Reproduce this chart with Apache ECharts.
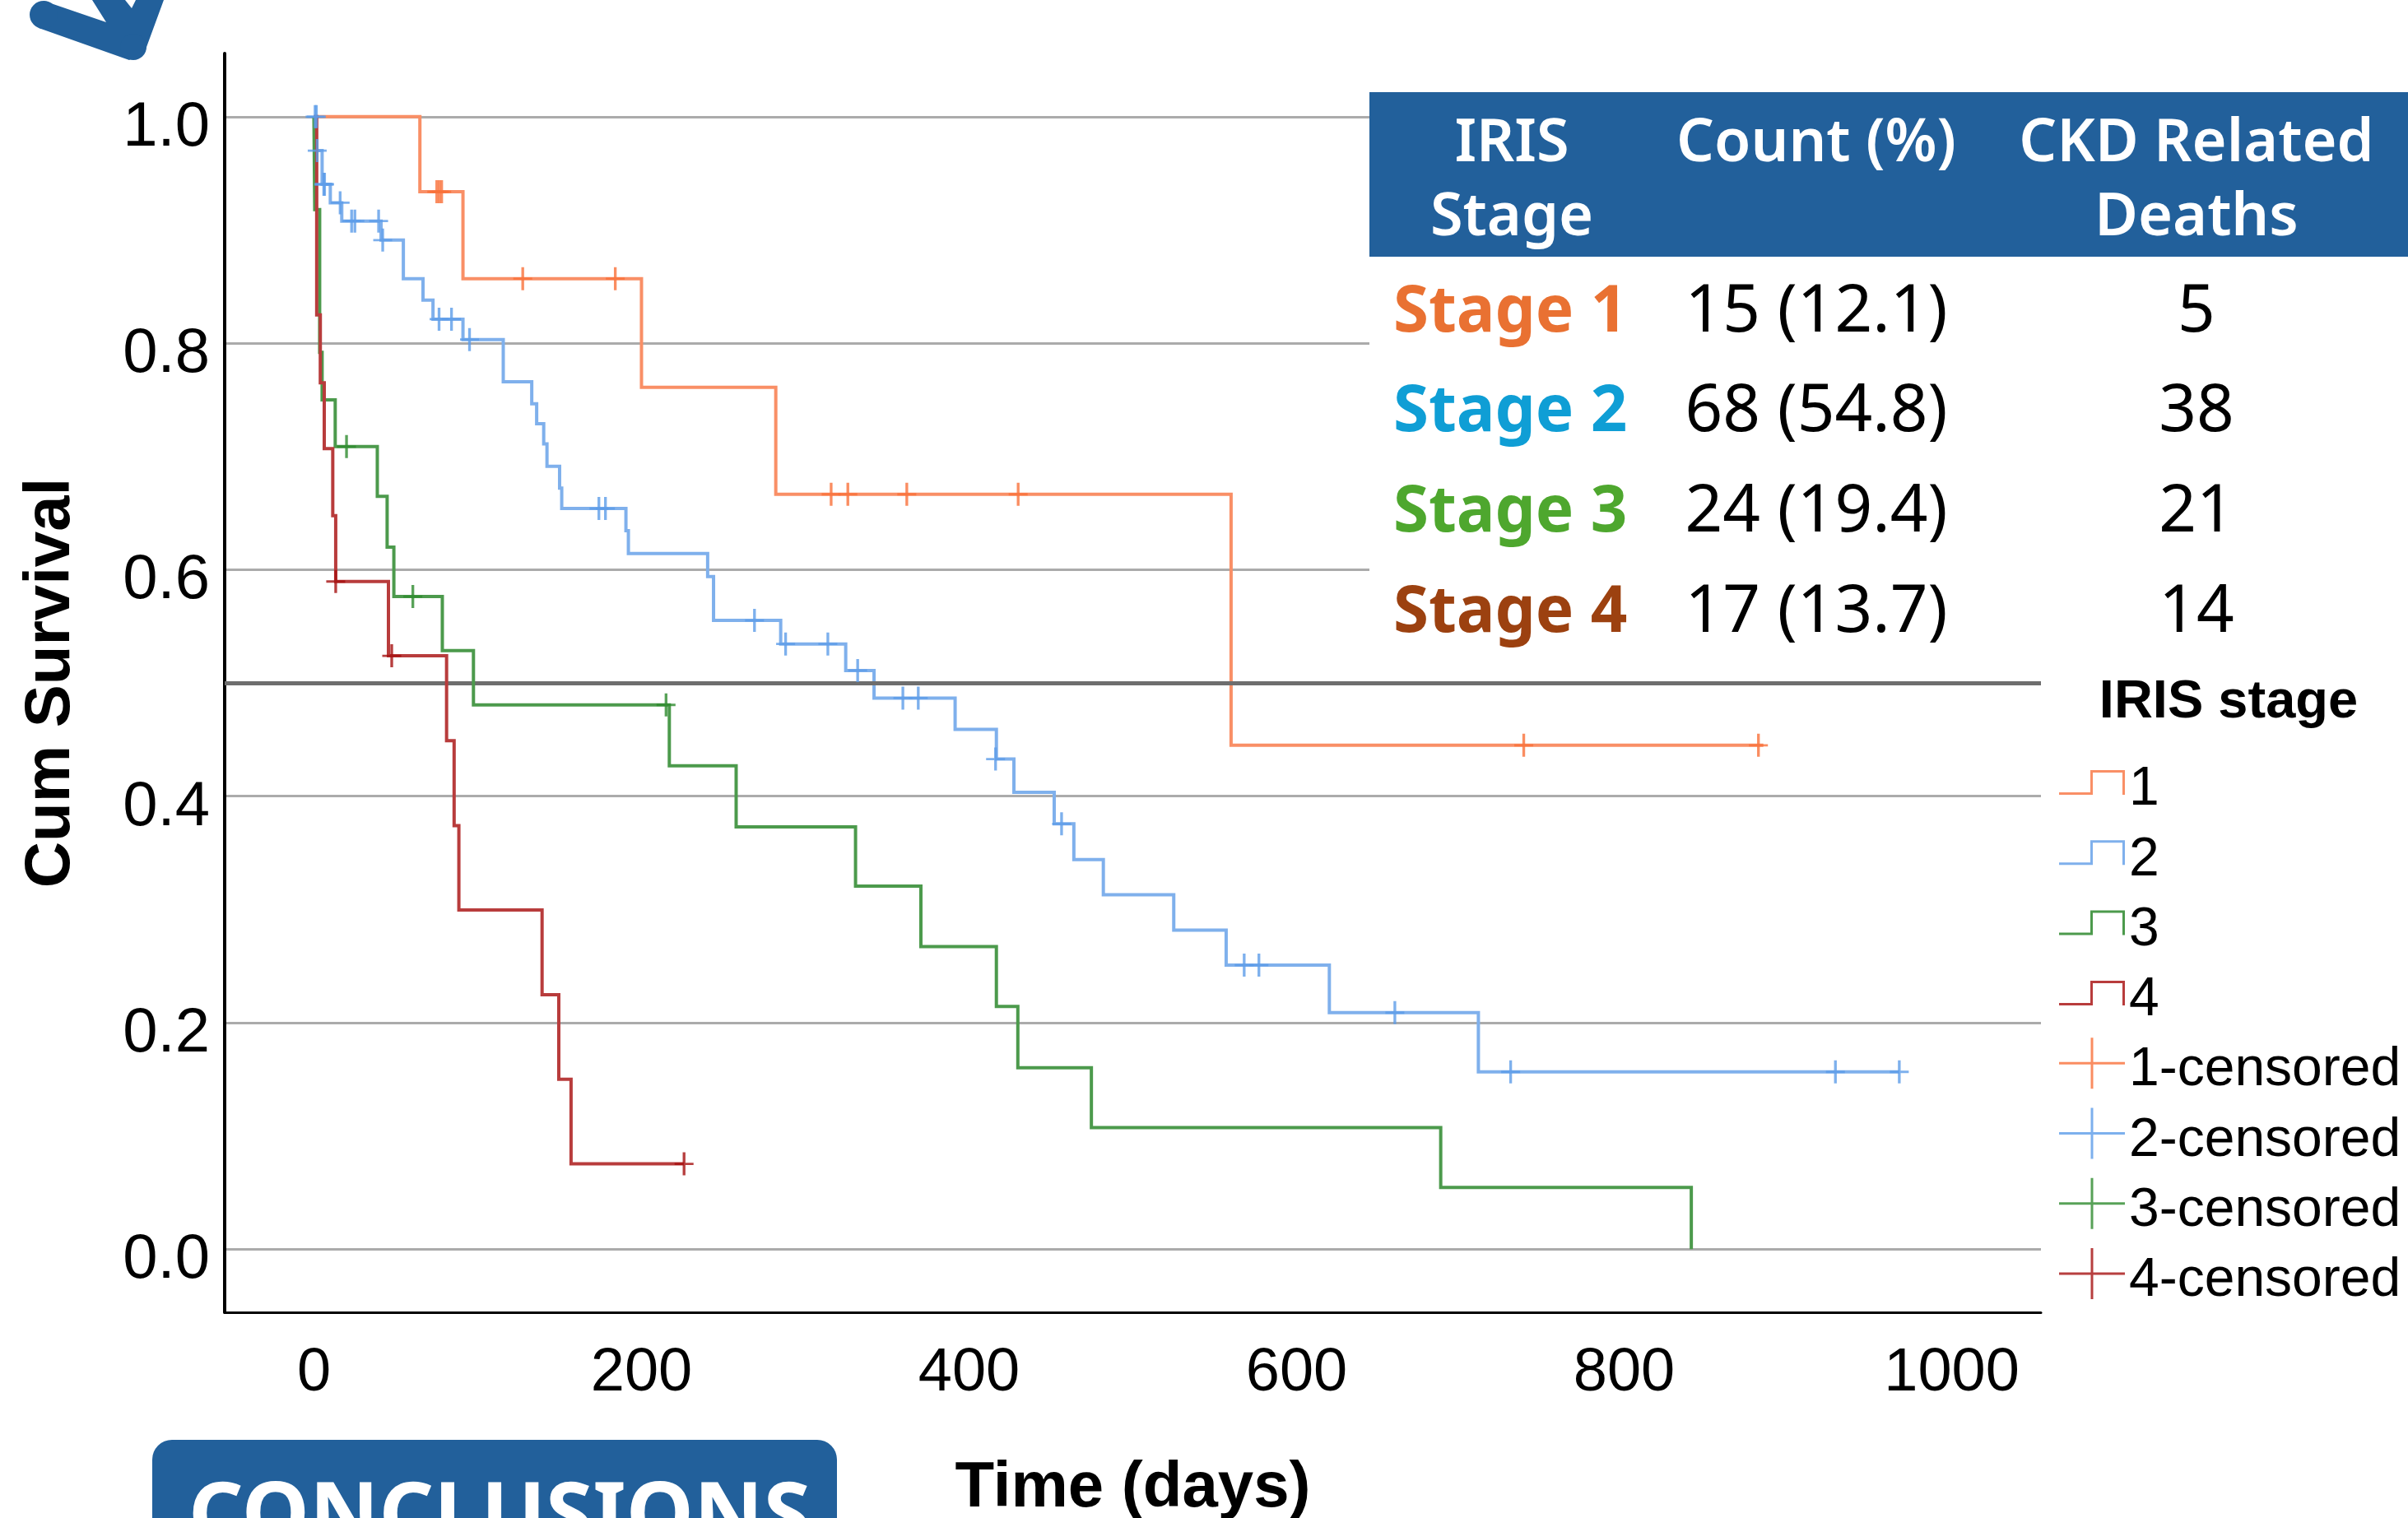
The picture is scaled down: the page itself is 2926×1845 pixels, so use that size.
<!DOCTYPE html>
<html>
<head>
<meta charset="utf-8">
<style>html,body{margin:0;padding:0;background:#fff}#chart{width:2926px;height:1845px}</style>
<script src="https://cdn.jsdelivr.net/npm/echarts@6/dist/echarts.min.js"></script>
</head>
<body>
<div id="chart"></div>
<script>
var xTickValues = [0, 200, 400, 600, 800, 1000];
var yTickValues = [0, 0.2, 0.4, 0.6, 0.8, 1.0];

var stage1Steps = [[0,1],[64.7,0.9337],[91,0.857],[200,0.761],[282,0.6666],[560,0.445],[885,0.445]];
var stage2Steps = [[0,1],[1.2,0.97],[5,0.9403],[10,0.924],[17,0.9078],[41,0.891],[54.6,0.857],[66.6,0.838],[72.7,0.8212],[91,0.8032],[115.6,0.766],[133,0.7465],[136,0.7289],[140.3,0.711],[142.3,0.6913],[150,0.672],[151.3,0.654],[190.5,0.6344],[192,0.6143],[240.4,0.594],[244,0.5552],[285,0.5344],[324.7,0.511],[342,0.4867],[391.5,0.459],[416.7,0.4328],[427.4,0.4034],[452,0.3756],[464,0.3441],[482,0.313],[525,0.2818],[557,0.2508],[620,0.2089],[711,0.1566],[968,0.1566]];
var stage3Steps = [[0,1],[0.5,0.918],[3.5,0.792],[5,0.75],[13,0.7087],[38.7,0.6647],[44.7,0.62],[48.8,0.5763],[78.4,0.5286],[97.4,0.4806],[217,0.4269],[257.8,0.3729],[330.7,0.3206],[370.6,0.2673],[416.7,0.2144],[429.8,0.1602],[474.7,0.1074],[688,0.0545],[841,0]];
var stage4Steps = [[0,1],[1.7,0.825],[3.9,0.765],[6.3,0.707],[11.5,0.6477],[13.3,0.5896],[45.5,0.524],[81,0.449],[85.6,0.374],[88.5,0.2995],[139.3,0.2247],[149.5,0.15],[157,0.0754],[226,0.0754]];

var stage1Censored = [[75,0.9337],[76.5,0.9337],[78,0.9337],[127.5,0.857],[184,0.857],[315.8,0.6666],[326,0.6666],[362,0.6666],[430,0.6666],[738.7,0.445],[882,0.445]];
var stage2Censored = [[0.7,1],[1.5,1],[2,0.97],[6,0.9403],[6.5,0.9403],[16,0.924],[23,0.9078],[25,0.9078],[39.5,0.9078],[42,0.891],[76.4,0.8212],[84,0.8212],[95,0.8032],[174,0.654],[178,0.654],[269,0.5552],[288,0.5344],[313.8,0.5344],[332,0.511],[359.6,0.4867],[369,0.4867],[416.2,0.4328],[456.5,0.3756],[568,0.2508],[577,0.2508],[660,0.2089],[730.7,0.1566],[929,0.1566],[968,0.1566]];
var stage3Censored = [[19.9,0.7087],[60.4,0.5763],[215,0.4806]];
var stage4Censored = [[13.3,0.5896],[47.5,0.524],[226,0.0754]];

var seriesNames = ['1','2','3','4'];
var censoredNames = ['1-censored','2-censored','3-censored','4-censored'];
var lineColors = ['#F98F66','#7FB0EC','#4C9A4C','#B83C3C'];
var crossColors = ['#F9703A','#5C9CE8','#2E8B2E','#A50F0F'];
var legendTitle = 'IRIS stage';
var xAxisTitle = 'Time (days)';
var yAxisTitle = 'Cum Survival';
var referenceLevel = 0.5;

var tableHeaders = [['IRIS','Stage'],['Count (%)'],['CKD Related','Deaths']];
var tableStages = ['Stage 1','Stage 2','Stage 3','Stage 4'];
var tableStageColors = ['#E97132','#0F9ED5','#4EA72E','#9C4110'];
var tableCounts = ['15 (12.1)','68 (54.8)','24 (19.4)','17 (13.7)'];
var tableDeaths = ['5','38','21','14'];
var conclusionsText = 'CONCLUSIONS';

var BLUE = '#22609B';
var stepIcon = 'path://M0 27 H38 V0 H80 V30 H77 V3 H41 V30 H0 Z';
var crossIcon = 'path://M38.5 0 H41.5 V29.5 H80 V32.5 H41.5 V62 H38.5 V32.5 H0 V29.5 H38.5 Z';
var crossSymbol = 'path://M-1.6 -14 H1.6 V-1.4 H11 V1.4 H1.6 V14 H-1.6 V1.4 H-11 V-1.4 H-1.6 Z';

var allSteps = [stage1Steps, stage2Steps, stage3Steps, stage4Steps];
var allCensored = [stage1Censored, stage2Censored, stage3Censored, stage4Censored];

var series = [];
allSteps.forEach(function (d, i) {
  var s = {
    name: seriesNames[i], type: 'line', step: 'end', data: d, symbol: 'none', z: 3 + i,
    lineStyle: {color: lineColors[i], width: 4, cap: 'butt', join: 'miter'},
    itemStyle: {color: lineColors[i]}, animation: false, clip: false
  };
  if (i === 0) {
    s.markLine = {
      silent: true, symbol: 'none', label: {show: false}, animation: false,
      lineStyle: {color: '#6E6E6E', width: 5, type: 'solid'},
      data: [{yAxis: referenceLevel}]
    };
  }
  series.push(s);
});
allCensored.forEach(function (d, i) {
  series.push({
    name: censoredNames[i], type: 'scatter', data: d, symbol: crossSymbol,
    symbolSize: [23, 28], z: 8 + i, animation: false,
    itemStyle: {color: crossColors[i], opacity: 0.8}
  });
});

function t(text, x, baseline, size, weight, family, color, align, k) {
  return {type: 'text', z: 60, x: x, y: baseline - (k || 0.8) * size,
    style: {text: text, font: weight + ' ' + size + 'px "' + family + '"', fill: color, align: align || 'center'}};
}

var gfx = [];
gfx.push({type: 'rect', z: 50, shape: {x: 1664, y: 112, width: 1262, height: 713}, style: {fill: '#fff'}});
gfx.push({type: 'rect', z: 51, shape: {x: 1664, y: 112, width: 1262, height: 200}, style: {fill: BLUE}});
var colX = [1837, 2207, 2669];
var rowBase = [404, 525, 647, 769];
tableHeaders.forEach(function (lines, c) {
  lines.forEach(function (line, l) {
    gfx.push(t(line, colX[c], 197 + l * 90, 72, 600, 'Noto Sans', '#fff'));
  });
});
tableStages.forEach(function (s, r) {
  gfx.push(t(s, 1693, rowBase[r], 78, 700, 'Noto Sans', tableStageColors[r], 'left'));
  gfx.push(t(tableCounts[r], 2207, rowBase[r], 80, 400, 'Noto Sans', '#000'));
  gfx.push(t(tableDeaths[r], 2669, rowBase[r], 80, 400, 'Noto Sans', '#000'));
});
gfx.push(t(legendTitle, 2708, 870, 65, 700, 'Liberation Sans', '#000', 'center', 0.74));
gfx.push({type: 'rect', z: 51, shape: {x: 185, y: 1750, width: 832, height: 120, r: [24, 24, 0, 0]}, style: {fill: BLUE}});
gfx.push(t(conclusionsText, 607, 1878, 104, 700, 'Noto Sans', '#fff'));
gfx.push({type: 'polygon', z: 52, shape: {points: [[53,1],[129,27],[112,0],[152,0],[160,10],[165,0],[199,0],[177,60],[157,73],[47,34]]}, style: {fill: BLUE}});
gfx.push({type: 'circle', z: 52, shape: {cx: 53, cy: 18, r: 17}, style: {fill: BLUE}});
gfx.push({type: 'circle', z: 52, shape: {cx: 162, cy: 57, r: 16}, style: {fill: BLUE}});

var chart = echarts.init(document.getElementById('chart'), null, {renderer: 'canvas'});
chart.setOption({
  animation: false,
  backgroundColor: '#fff',
  grid: {left: 273, right: 446, top: 65, bottom: 250, containLabel: false, outerBoundsMode: 'none'},
  xAxis: {
    type: 'value', min: -54.5, max: 1054.5,
    name: xAxisTitle, nameLocation: 'middle', nameGap: 175,
    nameTextStyle: {fontFamily: 'Liberation Sans', fontWeight: 'bold', fontSize: 78, color: '#000'},
    axisLine: {show: true, onZero: false, lineStyle: {color: '#000', width: 3}},
    axisTick: {show: false, customValues: xTickValues},
    axisLabel: {customValues: xTickValues, fontFamily: 'Liberation Sans', fontSize: 74, color: '#000', margin: 38,
      formatter: function (v) { return String(v); }},
    splitLine: {show: false}
  },
  yAxis: {
    type: 'value', min: -0.0557, max: 1.0558,
    name: yAxisTitle, nameLocation: 'middle', nameGap: 172, nameRotate: 90,
    nameTextStyle: {fontFamily: 'Liberation Sans', fontWeight: 'bold', fontSize: 78, color: '#000'},
    axisLine: {show: true, onZero: false, lineStyle: {color: '#000', width: 4}},
    axisTick: {show: false, customValues: yTickValues},
    axisLabel: {customValues: yTickValues, fontFamily: 'Liberation Sans', fontSize: 76, color: '#000', margin: 18,
      verticalAlign: 'top', lineHeight: 28, formatter: function (v) { return v.toFixed(1); }},
    splitLine: {show: true, customValues: yTickValues, lineStyle: {color: '#ABABAB', width: 3}}
  },
  legend: {
    orient: 'vertical', left: 2497, top: 904, itemWidth: 80, itemHeight: 62, itemGap: 1.3, selectedMode: false,
    formatter: function (n) { return '{a|' + n + '}'; },
    textStyle: {
      fontFamily: 'Liberation Sans', fontSize: 66, color: '#000',
      rich: {a: {fontFamily: 'Liberation Sans', fontSize: 66, color: '#000', lineHeight: 66, padding: [18, 0, 0, 0]}}
    },
    data: seriesNames.map(function (n) { return {name: n, icon: stepIcon}; })
      .concat(censoredNames.map(function (n) { return {name: n, icon: crossIcon}; }))
  },
  series: series,
  graphic: {elements: gfx}
});
</script>
</body>
</html>
